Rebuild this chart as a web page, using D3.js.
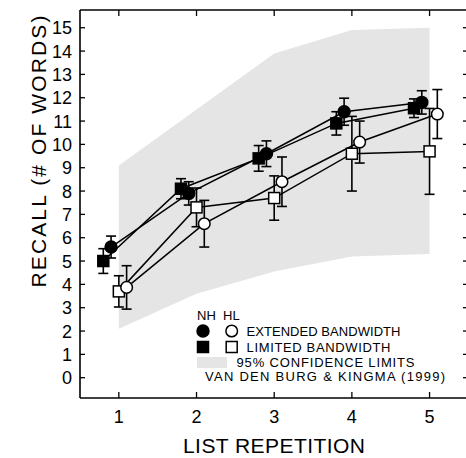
<!DOCTYPE html>
<html>
<head>
<meta charset="utf-8">
<script src="https://cdn.jsdelivr.net/npm/d3@7"></script>
<style>
  body { margin: 0; background: #fff; }
  svg text { font-family: "Liberation Sans", Arial, sans-serif; fill: #000; }
</style>
</head>
<body>
<div id="chart"></div>
<script>
// data
const reps = [1, 2, 3, 4, 5];
const yTicks = [0, 1, 2, 3, 4, 5, 6, 7, 8, 9, 10, 11, 12, 13, 14, 15];

const nhExt = [5.6, 7.9, 9.6, 11.4, 11.8];
const nhExtErr = [0.47, 0.5, 0.55, 0.58, 0.5];
const nhLim = [5.0, 8.1, 9.4, 10.9, 11.55];
const nhLimErr = [0.53, 0.43, 0.55, 0.5, 0.4];
const hlExt = [3.87, 6.6, 8.4, 10.1, 11.3];
const hlExtErr = [0.93, 1.0, 1.06, 0.9, 1.05];
const hlLim = [3.7, 7.3, 7.7, 9.6, 9.7];
const hlLimErr = [0.67, 0.83, 0.95, 1.6, 1.84];

const bandUpper = [9.1, 11.5, 13.9, 14.9, 15.0];
const bandLower = [2.1, 3.6, 4.55, 5.2, 5.3];

// horizontal shift of each series (in list-repetition units)
const series = [
  { values: nhLim, err: nhLimErr, shift: -0.2, shape: "square", filled: true },
  { values: nhExt, err: nhExtErr, shift: -0.1, shape: "circle", filled: true },
  { values: hlLim, err: hlLimErr, shift: 0.0, shape: "square", filled: false },
  { values: hlExt, err: hlExtErr, shift: 0.1, shape: "circle", filled: false }
];

const W = 466, H = 458;
const svg = d3.select("#chart").append("svg")
    .attr("width", W)
    .attr("height", H);

const x = d3.scaleLinear().domain([0.5, 5.5]).range([80, 468.4]);
const y = d3.scaleLinear().domain([-0.87, 15.76]).range([398, 10]);

// CONFIDENCE BAND
const area = d3.area()
    .x((d, i) => x(reps[i]))
    .y0(d => y(d[0]))
    .y1(d => y(d[1]));
svg.append("path")
    .datum(reps.map((r, i) => [bandLower[i], bandUpper[i]]))
    .attr("d", area)
    .attr("fill", "#e5e5e5");

// FRAME
const frame = svg.append("g").attr("stroke", "#000").attr("stroke-width", 1.6);
frame.append("line").attr("x1", 80).attr("x2", 80).attr("y1", 10).attr("y2", 398);
frame.append("line").attr("x1", 80).attr("x2", 470).attr("y1", 398).attr("y2", 398);
frame.append("line").attr("x1", 80).attr("x2", 470).attr("y1", 10).attr("y2", 10);

// ticks (inward on all sides)
const ticks = svg.append("g").attr("stroke", "#000").attr("stroke-width", 1.3);
ticks.selectAll(".yt-l").data(yTicks).enter().append("line")
    .attr("x1", 80).attr("x2", 85)
    .attr("y1", d => y(d)).attr("y2", d => y(d));
ticks.selectAll(".yt-r").data(yTicks).enter().append("line")
    .attr("x1", 463).attr("x2", 468)
    .attr("y1", d => y(d)).attr("y2", d => y(d));
ticks.selectAll(".xt-b").data(reps).enter().append("line")
    .attr("x1", d => x(d)).attr("x2", d => x(d))
    .attr("y1", 398).attr("y2", 392);
ticks.selectAll(".xt-t").data(reps).enter().append("line")
    .attr("x1", d => x(d)).attr("x2", d => x(d))
    .attr("y1", 10).attr("y2", 16);

// tick labels
svg.selectAll(".ylab").data(yTicks).enter().append("text")
    .attr("x", 72)
    .attr("y", d => y(d))
    .attr("dy", "0.36em")
    .attr("text-anchor", "end")
    .attr("font-size", 18)
    .text(d => d);
svg.selectAll(".xlab").data(reps).enter().append("text")
    .attr("x", d => x(d))
    .attr("y", 423)
    .attr("text-anchor", "middle")
    .attr("font-size", 18)
    .text(d => d);

// axis titles
svg.append("text")
    .attr("transform", `translate(46,${(15 + 288) / 2}) rotate(-90)`)
    .attr("text-anchor", "middle")
    .attr("font-size", 21)
    .attr("textLength", 272)
    .attr("lengthAdjust", "spacing")
    .text("RECALL (# OF WORDS)");
svg.append("text")
    .attr("x", 274)
    .attr("y", 453)
    .attr("text-anchor", "middle")
    .attr("font-size", 21)
    .attr("textLength", 182)
    .attr("lengthAdjust", "spacing")
    .text("LIST REPETITION");

// LINES
const line = d3.line()
    .x(d => x(d[0]))
    .y(d => y(d[1]));
series.forEach(s => {
    svg.append("path")
        .datum(s.values.map((v, i) => [reps[i] + s.shift, v]))
        .attr("d", line)
        .attr("fill", "none")
        .attr("stroke", "#000")
        .attr("stroke-width", 1.5);
});

// ERROR BARS
series.forEach(s => {
    const g = svg.append("g").attr("stroke", "#000").attr("stroke-width", 1.6);
    s.values.forEach((v, i) => {
        const cx = x(reps[i] + s.shift);
        const lo = y(v - s.err[i]), hi = y(v + s.err[i]);
        g.append("line").attr("x1", cx).attr("x2", cx).attr("y1", lo).attr("y2", hi);
        g.append("line").attr("x1", cx - 5).attr("x2", cx + 5).attr("y1", lo).attr("y2", lo);
        g.append("line").attr("x1", cx - 5).attr("x2", cx + 5).attr("y1", hi).attr("y2", hi);
    });
});

// MARKERS
function drawMarker(g, shape, filled, cx, cy) {
    if (shape === "circle") {
        g.append("circle")
            .attr("cx", cx).attr("cy", cy).attr("r", filled ? 6 : 5.8)
            .attr("fill", filled ? "#000" : "#fff")
            .attr("stroke", "#000").attr("stroke-width", 1.5);
    } else {
        g.append("rect")
            .attr("x", cx - 5.5).attr("y", cy - 5.5)
            .attr("width", 11).attr("height", 11)
            .attr("fill", filled ? "#000" : "#fff")
            .attr("stroke", "#000").attr("stroke-width", 1.5);
    }
}
series.forEach(s => {
    const g = svg.append("g");
    s.values.forEach((v, i) => drawMarker(g, s.shape, s.filled, x(reps[i] + s.shift), y(v)));
});

// LEGEND
const leg = svg.append("g");
leg.append("text").attr("x", 197).attr("y", 320).attr("font-size", 13).text("NH");
leg.append("text").attr("x", 223).attr("y", 320).attr("font-size", 13).text("HL");
drawMarker(leg, "circle", true, 203, 331);
drawMarker(leg, "circle", false, 231.7, 331);
leg.append("text").attr("x", 246.5).attr("y", 336).attr("font-size", 13)
    .attr("textLength", 154).attr("lengthAdjust", "spacing").text("EXTENDED BANDWIDTH");
drawMarker(leg, "square", true, 203, 347);
drawMarker(leg, "square", false, 231.7, 347);
leg.append("text").attr("x", 246.5).attr("y", 352).attr("font-size", 13)
    .attr("textLength", 144).attr("lengthAdjust", "spacing").text("LIMITED BANDWIDTH");
leg.append("rect").attr("x", 197).attr("y", 357).attr("width", 30).attr("height", 11)
    .attr("fill", "#e5e5e5");
leg.append("text").attr("x", 236.5).attr("y", 367).attr("font-size", 13)
    .attr("textLength", 178).attr("lengthAdjust", "spacing").text("95% CONFIDENCE LIMITS");
leg.append("text").attr("x", 205).attr("y", 381).attr("font-size", 13)
    .attr("textLength", 240).attr("lengthAdjust", "spacing").text("VAN DEN BURG & KINGMA (1999)");
</script>
</body>
</html>
